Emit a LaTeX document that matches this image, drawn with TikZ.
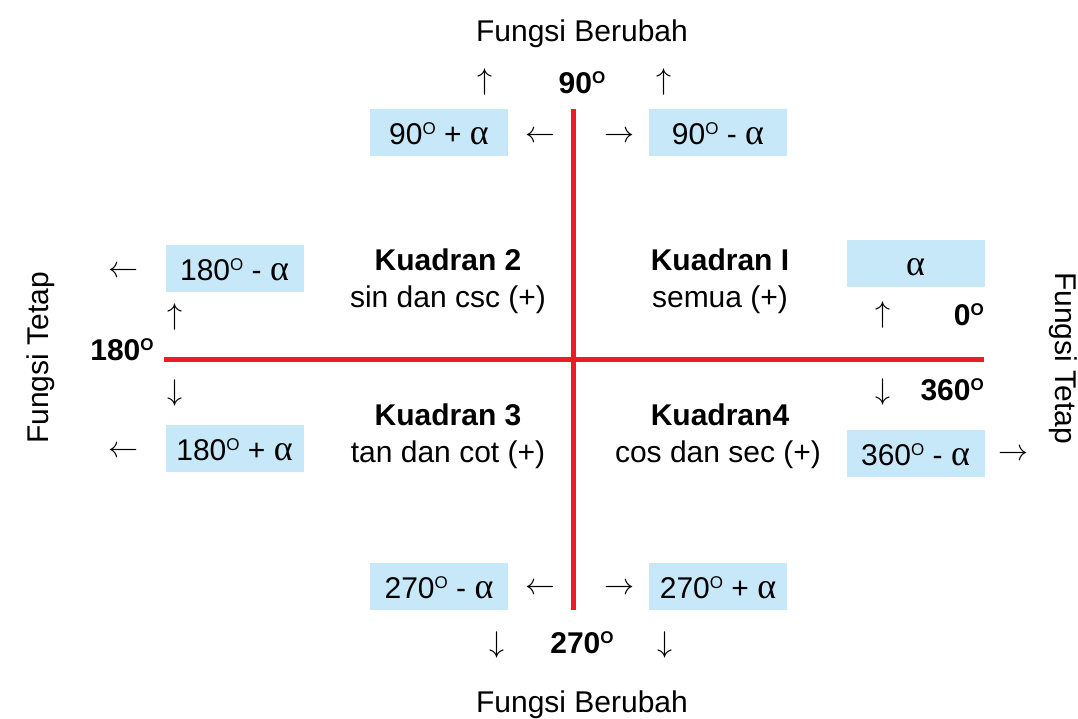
\RequirePackage{fix-cm}
\documentclass[tikz,border=0pt]{standalone}
\usepackage{fontspec}
\setmainfont{Liberation Sans}
\newfontfamily\serifA{Liberation Serif}
\newcommand{\al}{{\fontsize{36}{36}\selectfont\serifA α}}
\newcommand{\dg}{\raisebox{10pt}{\fontsize{17}{17}\selectfont O}}
\definecolor{axisred}{RGB}{237,28,36}
\definecolor{boxblue}{RGB}{199,232,248}
\begin{document}
\begin{tikzpicture}[x=1pt,y=-1pt,
  every node/.style={inner sep=0pt, font=\fontsize{30}{36}\selectfont},
  lbl/.style={anchor=base},
  bold/.style={anchor=base, font=\fontsize{30}{36}\selectfont\bfseries},
  valbox/.style={fill=boxblue, minimum width=138pt, minimum height=47pt, text height=23pt, text depth=0pt},
  arr/.style={font=\fontsize{30}{36}\selectfont},
  axis/.style={draw=axisred, line width=5pt}]
\useasboundingbox (0,0) rectangle (1078,718);
% axes
\coordinate (vt) at (573.5,109);
\coordinate (vb) at (573.5,610);
\coordinate (hl) at (164,359.5);
\coordinate (hr) at (984,359.5);
\draw[axis] (vt) -- (vb);
\draw[axis] (hl) -- (hr);
% top
\node[lbl] (ftop) at (582,41) {Fungsi Berubah};
\node[bold] (d90) at (582,93) {90\dg};
\node[arr] (ua1) at (485,82) {$\uparrow$};
\node[arr] (ua2) at (664,82) {$\uparrow$};
\node[valbox] (b90p) at (439,132.5) {90\dg{} + \al};
\node[valbox] (b90m) at (718,132.5) {90\dg{} - \al};
\node[arr] (la1) at (540,137) {$\leftarrow$};
\node[arr] (ra1) at (619,137) {$\rightarrow$};
% bottom
\node[valbox] (b270m) at (439,586.5) {270\dg{} - \al};
\node[valbox] (b270p) at (718,586.5) {270\dg{} + \al};
\node[arr] (la2) at (540,589) {$\leftarrow$};
\node[arr] (ra2) at (619,589) {$\rightarrow$};
\node[arr] (da1) at (497,645) {$\downarrow$};
\node[arr] (da2) at (665,645) {$\downarrow$};
\node[bold] (d270) at (582,653) {270\dg};
\node[lbl] (fbot) at (582,712) {Fungsi Berubah};
% left
\node[rotate=90] (fleft) at (41,358) {Fungsi Tetap};
\node[arr] (la3) at (123,272) {$\leftarrow$};
\node[arr] (la4) at (123,452) {$\leftarrow$};
\node[valbox] (b180m) at (234.5,268.5) {180\dg{} - \al};
\node[valbox] (b180p) at (234.5,448.5) {180\dg{} + \al};
\node[arr] (ua3) at (175,317) {$\uparrow$};
\node[arr] (da3) at (175,393) {$\downarrow$};
\node[bold] (d180) at (122,360) {180\dg};
% right
\node[rotate=-90] (fright) at (1063,358) {Fungsi Tetap};
\node[valbox] (ba) at (915.5,263.5) {\al};
\node[valbox] (b360m) at (915.5,453.5) {360\dg{} - \al};
\node[arr] (ua4) at (883,315) {$\uparrow$};
\node[arr] (da4) at (883,392) {$\downarrow$};
\node[bold, anchor=base east] (d0) at (984,325) {0\dg};
\node[bold, anchor=base east] (d360) at (984,400) {360\dg};
\node[arr] (ra3) at (1013,455) {$\rightarrow$};
% quadrants
\node[bold] (k2) at (448,270) {Kuadran 2};
\node[lbl] (k2t) at (448,307) {sin dan csc (+)};
\node[bold] (k1) at (720,270) {Kuadran I};
\node[lbl] (k1t) at (720,307) {semua (+)};
\node[bold] (k3) at (448,425) {Kuadran 3};
\node[lbl] (k3t) at (448,462) {tan dan cot (+)};
\node[bold] (k4) at (720,425) {Kuadran4};
\node[lbl] (k4t) at (718,462) {cos dan sec (+)};
\end{tikzpicture}
\end{document}
